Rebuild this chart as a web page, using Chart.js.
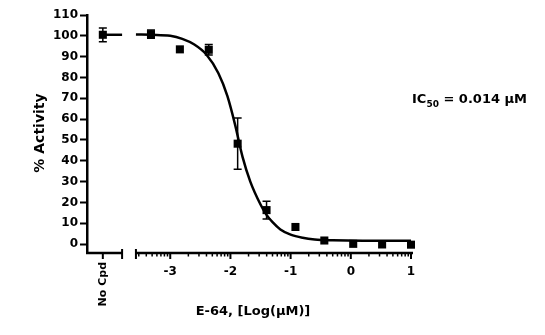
<!DOCTYPE html>
<html>
<head>
<meta charset="utf-8">
<script src="https://cdn.jsdelivr.net/npm/chart.js@4.4.1/dist/chart.umd.min.js"></script>
<style>
  html, body { margin: 0; padding: 0; background: #fff; }
  canvas { display: block; }
</style>
</head>
<body>
<canvas id="c" width="545" height="335"></canvas>
<script>
// ── values ──────────────────────────────────────────────────────
const noCpdX   = -4.12;   // "No Cpd" control, placed left of the axis break
const noCpdY   = 100.5;
const noCpdErr = 3.3;

const logConc  = [-3.32, -2.84, -2.36, -1.88, -1.40, -0.92, -0.44, 0.04, 0.52, 1.00];
const activity = [100.8, 93.5, 93.3, 48.2, 16.3, 8.2, 1.7, 0.1, -0.2, -0.3];
const sem      = [2.0, 0, 2.5, 12.3, 4.3, 0, 0, 0, 0, 0];

// fitted curve
const curveX = [-3.57, -3.3, -3.0, -2.8, -2.6, -2.4, -2.2, -2.05, -1.92, -1.8, -1.67, -1.5, -1.4, -1.3, -1.17, -1.0, -0.8, -0.6, -0.3, 0.2, 1.0];
const curveY = [100.6, 100.5, 100, 98.5, 95.8, 91, 82, 71, 57, 42, 30, 19, 14, 10.5, 7, 4.5, 3, 2.2, 1.8, 1.6, 1.6];

const xTicks    = [-3, -2, -1, 0, 1];
const yTicks    = [0, 10, 20, 30, 40, 50, 60, 70, 80, 90, 100, 110];
const axisBreak = [-3.8, -3.57];

const FONT = '"DejaVu Sans", "Liberation Sans", sans-serif';

// ── axes, error bars & labels drawn on top ──────────────────────
const decorPlugin = {
  id: 'decor',
  afterDatasetsDraw(chart) {
    const {ctx, chartArea: a, scales: {x, y}} = chart;
    ctx.save();
    ctx.strokeStyle = '#000';
    ctx.fillStyle   = '#000';
    ctx.lineCap     = 'butt';

    // error bars
    ctx.lineWidth = 1.5;
    const errBar = (xv, yv, e) => {
      if (!e) return;
      const xp = x.getPixelForValue(xv);
      const y1 = y.getPixelForValue(yv + e), y2 = y.getPixelForValue(yv - e);
      ctx.beginPath();
      ctx.moveTo(xp, y1); ctx.lineTo(xp, y2);
      ctx.moveTo(xp - 4, y1); ctx.lineTo(xp + 4, y1);
      ctx.moveTo(xp - 4, y2); ctx.lineTo(xp + 4, y2);
      ctx.stroke();
    };
    errBar(noCpdX, noCpdY, noCpdErr);
    logConc.forEach((v, i) => errBar(v, activity[i], sem[i]));

    // broken x axis
    const yb = a.bottom;
    const b1 = x.getPixelForValue(axisBreak[0]);
    const b2 = x.getPixelForValue(axisBreak[1]);
    ctx.lineWidth = 2.5;
    ctx.beginPath();
    ctx.moveTo(a.left - 1, yb); ctx.lineTo(b1, yb);
    ctx.moveTo(b2, yb);         ctx.lineTo(a.right + 2, yb);
    ctx.stroke();
    ctx.lineWidth = 2;
    ctx.beginPath();
    ctx.moveTo(b1, yb - 4); ctx.lineTo(b1, yb + 6);
    ctx.moveTo(b2, yb - 4); ctx.lineTo(b2, yb + 6);
    [noCpdX, ...xTicks].forEach(v => {
      const p = x.getPixelForValue(v);
      ctx.moveTo(p, yb); ctx.lineTo(p, yb + 6);
    });
    ctx.stroke();

    // log minor ticks
    ctx.lineWidth = 1.5;
    ctx.beginPath();
    for (let d = -4; d < 1; d++) {
      for (let k = 2; k <= 9; k++) {
        const v = d + Math.log10(k);
        if (v <= axisBreak[1] || v >= 1) continue;
        const p = x.getPixelForValue(v);
        ctx.moveTo(p, yb); ctx.lineTo(p, yb + 3.5);
      }
    }
    ctx.stroke();

    // titles
    ctx.textBaseline = 'middle';
    ctx.font = `bold 14px ${FONT}`;
    ctx.save();
    ctx.translate(40, 133);
    ctx.rotate(-Math.PI / 2);
    ctx.textAlign = 'center';
    ctx.fillText('% Activity', 0, 0);
    ctx.restore();

    ctx.font = `bold 11px ${FONT}`;
    ctx.save();
    ctx.translate(x.getPixelForValue(noCpdX), 262);
    ctx.rotate(-Math.PI / 2);
    ctx.textAlign = 'right';
    ctx.fillText('No Cpd', 0, 0);
    ctx.restore();

    ctx.font = `bold 13px ${FONT}`;
    ctx.textAlign = 'center';
    ctx.fillText('E-64, [Log(\u03BCM)]', 253, 312);

    // IC50 annotation
    ctx.textAlign = 'left';
    ctx.textBaseline = 'alphabetic';
    let tx = 412;
    ctx.font = `bold 13px ${FONT}`;
    ctx.fillText('IC', tx, 103);
    tx += ctx.measureText('IC').width;
    ctx.font = `bold 9px ${FONT}`;
    ctx.fillText('50', tx, 107);
    tx += ctx.measureText('50').width;
    ctx.font = `bold 13px ${FONT}`;
    ctx.fillText(' = 0.014 \u03BCM', tx, 103);

    ctx.restore();
  }
};

const pts = (xs, ys) => xs.map((v, i) => ({x: v, y: ys[i]}));

new Chart(document.getElementById('c'), {
  type: 'line',
  data: {
    datasets: [
      { data: pts(curveX, curveY), borderColor: '#000', borderWidth: 2.5,
        pointRadius: 0, cubicInterpolationMode: 'monotone', fill: false },
      { data: [{x: noCpdX, y: noCpdY}, {x: axisBreak[0], y: noCpdY}],
        borderColor: '#000', borderWidth: 2.5, pointRadius: 0, fill: false },
      { data: pts(logConc, activity), showLine: false, clip: false,
        pointStyle: 'rect', pointRadius: 5.7, backgroundColor: '#000', borderWidth: 0 },
      { data: [{x: noCpdX, y: noCpdY}], showLine: false, clip: false,
        pointStyle: 'rect', pointRadius: 5.7, backgroundColor: '#000', borderWidth: 0 },
    ],
  },
  options: {
    responsive: false, animation: false, devicePixelRatio: 1,
    layout: {padding: {left: 0, right: 134, top: 15, bottom: 0}},
    plugins: {legend: {display: false}, tooltip: {enabled: false}},
    scales: {
      x: {
        type: 'linear', min: -4.383, max: 1.0,
        grid: {display: false}, border: {display: false},
        afterBuildTicks: s => { s.ticks = xTicks.map(v => ({value: v})); },
        afterFit: s => { s.height = 82; },
        ticks: {font: {family: FONT, size: 12, weight: 'bold'}, color: '#000',
                padding: 4, maxRotation: 0, autoSkip: false},
      },
      y: {
        min: -4.3, max: 110,
        grid: {drawOnChartArea: false, tickLength: 7, tickWidth: 2, color: '#000'},
        border: {display: true, width: 2.5, color: '#000'},
        afterBuildTicks: s => { s.ticks = yTicks.map(v => ({value: v})); },
        afterFit: s => { s.width = 87; },
        ticks: {font: {family: FONT, size: 12, weight: 'bold'}, color: '#000', padding: 2},
      },
    },
  },
  plugins: [decorPlugin],
});
</script>
</body>
</html>
